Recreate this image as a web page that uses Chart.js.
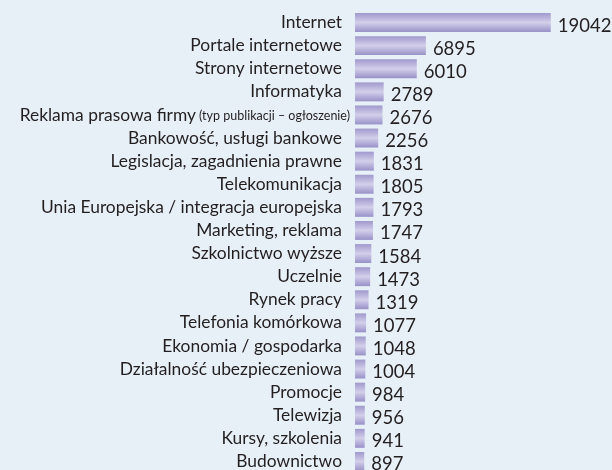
<!DOCTYPE html>
<html><head><meta charset="utf-8">
<style>
html,body{margin:0;padding:0;background:#e7eff7;overflow:hidden}
#wrap{width:612px;height:480px;position:relative}
canvas{display:block}
</style>
<script src="https://cdn.jsdelivr.net/npm/chart.js@4/dist/chart.umd.min.js"></script>
</head><body><div id="wrap"><canvas id="c" width="612" height="480"></canvas></div>
<script>
const categories = [
  'Internet', 'Portale internetowe', 'Strony internetowe', 'Informatyka',
  'Reklama prasowa firmy', 'Bankowość, usługi bankowe', 'Legislacja, zagadnienia prawne',
  'Telekomunikacja', 'Unia Europejska / integracja europejska', 'Marketing, reklama',
  'Szkolnictwo wyższe', 'Uczelnie', 'Rynek pracy', 'Telefonia komórkowa',
  'Ekonomia / gospodarka', 'Działalność ubezpieczeniowa', 'Promocje', 'Telewizja',
  'Kursy, szkolenia', 'Budownictwo'
];
const values = [19042, 6895, 6010, 2789, 2676, 2256, 1831, 1805, 1793, 1747,
  1584, 1473, 1319, 1077, 1048, 1004, 984, 956, 941, 897];
const labelNotes = ['', '', '', '', '(typ publikacji – ogłoszenie)', '', '', '', '', '',
  '', '', '', '', '', '', '', '', '', ''];

const FONT = 'Lato';
const TXT = '#231f20';
const LABEL_SIZE = 17.4;
const NOTE_SIZE = 12.5;
const VALUE_SIZE = 18.5;
const BAR_PCT = 0.82;

function barGradient(c) {
  const chart = c.chart;
  const ys = chart.scales.y;
  if (!ys || !chart.chartArea || c.dataIndex === undefined) return '#aaa4d4';
  const y = ys.getPixelForValue(c.dataIndex);
  const h = ys.height / categories.length * BAR_PCT;
  const g = chart.ctx.createLinearGradient(0, y - h / 2, 0, y + h / 2);
  g.addColorStop(0, '#a099cd');
  g.addColorStop(0.5, '#d3cfea');
  g.addColorStop(1, '#9891c8');
  return g;
}

const valueLabels = {
  id: 'valueLabels',
  afterDatasetsDraw(chart) {
    const ctx = chart.ctx;
    ctx.save();
    ctx.fillStyle = TXT;
    ctx.textBaseline = 'middle';
    ctx.textAlign = 'left';
    ctx.font = VALUE_SIZE + 'px ' + FONT;
    chart.getDatasetMeta(0).data.forEach((el, i) => {
      ctx.fillText(String(values[i]), el.x + 7, el.y + 3);
    });
    // labels that mix two text sizes
    const ys = chart.scales.y;
    labelNotes.forEach((note, i) => {
      if (!note) return;
      const y = ys.getPixelForValue(i);
      const xr = ys.right - 5;
      ctx.textAlign = 'right';
      ctx.font = NOTE_SIZE + 'px ' + FONT;
      const w = ctx.measureText(note).width;
      ctx.fillText(note, xr, y + 1.5);
      ctx.font = LABEL_SIZE + 'px ' + FONT;
      ctx.fillText(categories[i], xr - w - 3, y);
    });
    ctx.restore();
  }
};

new Chart(document.getElementById('c'), {
  type: 'bar',
  data: {
    labels: categories,
    datasets: [{
      data: values,
      backgroundColor: barGradient,
      borderWidth: 0,
      barPercentage: BAR_PCT,
      categoryPercentage: 1
    }]
  },
  options: {
    indexAxis: 'y',
    responsive: false,
    animation: false,
    layout: { padding: { top: 11, bottom: 7, left: 0, right: 0 } },
    plugins: { legend: { display: false }, tooltip: { enabled: false } },
    scales: {
      x: { display: false, min: 0, max: 25000 },
      y: {
        grid: { display: false },
        border: { display: false },
        afterFit(scale) {
          scale.width = 355;
          scale.paddingTop = 0;
          scale.paddingBottom = 0;
        },
        ticks: {
          padding: 5,
          color: TXT,
          font: { family: FONT, size: LABEL_SIZE },
          autoSkip: false,
          callback(v, i) { return labelNotes[i] ? '' : categories[i]; }
        }
      }
    }
  },
  plugins: [valueLabels]
});
</script>
</body></html>
